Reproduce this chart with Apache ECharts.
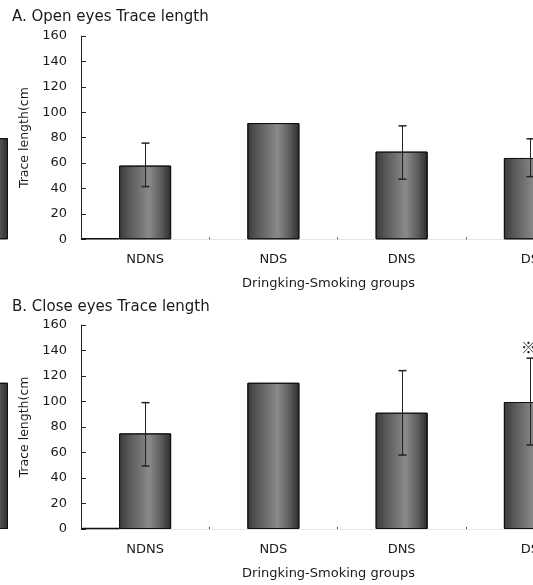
<!DOCTYPE html>
<html>
<head>
<meta charset="utf-8">
<script src="https://cdn.jsdelivr.net/npm/echarts@6/dist/echarts.min.js"></script>
<style>
  html, body { margin: 0; padding: 0; background: #fff; }
  #chart { width: 533px; height: 585px; }
</style>
</head>
<body>
<div id="chart"></div>
<script>
// Groups and axis ticks
const groups = ['NDNS', 'NDS', 'DNS', 'DS'];
const yTicks = [0, 20, 40, 60, 80, 100, 120, 140, 160];

// A. Open eyes – mean and error range (cm)
const openMean = [58.0, 91.5, 69.0, 64.0];
const openLow  = [41.5, null, 47.3, 49.3];
const openHigh = [75.7, null, 89.3, 79.1];

// B. Close eyes – mean and error range (cm)
const closeMean = [75.0, 114.7, 91.2, 99.6];
const closeLow  = [49.4, null, 58.0, 65.9];
const closeHigh = [99.1, null, 124.2, 134.0];
const closeMarks = ['', '', '', '※'];

// Last bar of the neighbouring panel, seen at the left edge
const edgeOpen = [79.6];
const edgeClose = [114.7];

const FONT = '"DejaVu Sans", sans-serif';
const TXT = '#1a1a1a';

const barFill = new echarts.graphic.LinearGradient(0, 0, 1, 0, [
  { offset: 0, color: '#3a3a3a' },
  { offset: 0.2, color: '#595959' },
  { offset: 0.58, color: '#8a8a8a' },
  { offset: 0.82, color: '#5a5a5a' },
  { offset: 1, color: '#2c2c2c' }
]);

const panels = [
  { top: 36, height: 203.3, title: 'A. Open eyes Trace length', titleTop: 5 },
  { top: 325, height: 204, title: 'B. Close eyes Trace length', titleTop: 295 }
];

function yAxisFor(gridIndex) {
  return {
    type: 'value', gridIndex, min: 0, max: 160, interval: 20,
    name: 'Trace length(cm', nameLocation: 'middle', nameGap: 46,
    nameTextStyle: { fontFamily: FONT, fontSize: 12.5, color: TXT },
    axisLine: { show: true, lineStyle: { color: '#222', width: 1 } },
    axisTick: { show: true, inside: true, length: 5, lineStyle: { color: '#222' } },
    axisLabel: { fontFamily: FONT, fontSize: 13, color: TXT, margin: 14,
      formatter: v => (yTicks.includes(v) ? String(v) : '') },
    splitLine: { show: false }
  };
}

function xAxisFor(gridIndex) {
  return {
    type: 'category', gridIndex, data: groups, boundaryGap: true,
    name: 'Dringking-Smoking groups', nameLocation: 'middle', nameGap: 38,
    nameTextStyle: { fontFamily: FONT, fontSize: 13, color: TXT, padding: [0, 18, 0, 0] },
    axisLine: { show: true, onZero: false, lineStyle: { color: '#e6e6e6', width: 1 } },
    axisTick: { show: true, inside: true, length: 2, lineStyle: { color: '#555' } },
    axisLabel: { fontFamily: FONT, fontSize: 13, color: TXT, margin: 14 },
    splitLine: { show: false }
  };
}

function errorSeries(axisIndex, lows, highs, marks) {
  const data = [];
  groups.forEach((g, i) => { if (lows[i] != null) data.push([i, lows[i], highs[i]]); });
  return {
    type: 'custom', xAxisIndex: axisIndex, yAxisIndex: axisIndex, z: 10,
    data,
    encode: { x: 0, y: [1, 2] },
    renderItem(params, api) {
      const i = api.value(0);
      const lo = api.coord([i, api.value(1)]);
      const hi = api.coord([i, api.value(2)]);
      const x = Math.round(lo[0]) + 0.5;
      const cap = 4;
      const stroke = { stroke: '#222', lineWidth: 1 };
      const children = [
        { type: 'line', shape: { x1: x, y1: hi[1], x2: x, y2: lo[1] }, style: stroke },
        { type: 'line', shape: { x1: x - cap, y1: hi[1], x2: x + cap, y2: hi[1] }, style: { stroke: '#222', lineWidth: 1.5 } },
        { type: 'line', shape: { x1: x - cap, y1: lo[1], x2: x + cap, y2: lo[1] }, style: { stroke: '#222', lineWidth: 1.5 } }
      ];
      if (marks && marks[i]) {
        children.push({
          type: 'text',
          style: { text: marks[i], x: x - 2, y: hi[1] - 11, align: 'center', verticalAlign: 'middle',
            font: '15px "Noto Sans CJK KR", "DejaVu Sans", sans-serif', fill: '#222' }
        });
      }
      return { type: 'group', children };
    }
  };
}

function barSeries(axisIndex, values, width) {
  return {
    type: 'bar', xAxisIndex: axisIndex, yAxisIndex: axisIndex,
    data: values, barWidth: width,
    itemStyle: { color: barFill, borderColor: '#111', borderWidth: 1 },
    emphasis: { disabled: true }
  };
}

const grids = [];
const xAxes = [];
const yAxes = [];
panels.forEach((p, k) => {
  grids.push({ left: 81, top: p.top, width: 513, height: p.height, outerBoundsMode: 'none' });
  xAxes.push(xAxisFor(k));
  yAxes.push(yAxisFor(k));
});
// Narrow grids holding the neighbouring panel's edge bar
panels.forEach((p, k) => {
  grids.push({ left: -44, top: p.top, width: 52, height: p.height, outerBoundsMode: 'none' });
  xAxes.push({ type: 'category', gridIndex: 2 + k, data: [''], show: false });
  yAxes.push({ type: 'value', gridIndex: 2 + k, min: 0, max: 160, show: false, splitLine: { show: false } });
});

const option = {
  backgroundColor: '#ffffff',
  animation: false,
  title: panels.map(p => ({
    text: p.title, left: 7, top: p.titleTop,
    textStyle: { fontFamily: FONT, fontSize: 15, fontWeight: 'normal', color: TXT }
  })),
  grid: grids,
  xAxis: xAxes,
  yAxis: yAxes,
  series: [
    barSeries(0, openMean, 52),
    errorSeries(0, openLow, openHigh, null),
    barSeries(1, closeMean, 52),
    errorSeries(1, closeLow, closeHigh, closeMarks),
    barSeries(2, edgeOpen, 52),
    barSeries(3, edgeClose, 52)
  ]
};

const chart = echarts.init(document.getElementById('chart'), null, { renderer: 'canvas' });
chart.setOption(option);

// Dark baseline segment between the y axis and the first bar
const baseSegments = [0, 1].map(k => {
  const firstCenter = chart.convertToPixel({ xAxisIndex: k, yAxisIndex: k }, [0, 0]);
  return {
    type: 'line', z: 20,
    shape: { x1: grids[k].left, y1: firstCenter[1] - 0.5, x2: firstCenter[0] - 26, y2: firstCenter[1] - 0.5 },
    style: { stroke: '#111', lineWidth: 1.5 }
  };
});
chart.setOption({ graphic: baseSegments });
</script>
</body>
</html>
